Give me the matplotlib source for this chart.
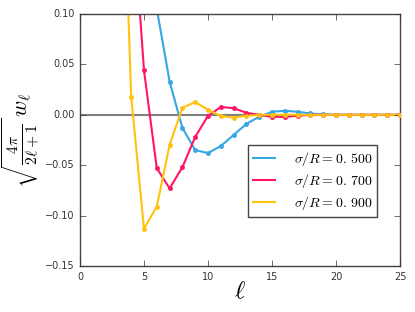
import matplotlib
matplotlib.use("Agg")
import matplotlib.pyplot as plt

plt.style.use("classic")
plt.rcParams["mathtext.fontset"] = "cm"

# multipole index
ell = list(range(2, 26))

# sqrt(4pi/(2l+1)) w_l
w_050 = [0.60, 0.40, 0.25, 0.17, 0.105, 0.033, -0.013, -0.035, -0.038, -0.031,
         -0.020, -0.009, -0.002, 0.003, 0.004, 0.003, 0.0013, 0.0005, 0.0,
         0.0, 0.0, 0.0, 0.0, 0.0]
w_070 = [0.60, 0.40, 0.225, 0.044, -0.053, -0.073, -0.052, -0.022, -0.001,
         0.0077, 0.0066, 0.002, 0.0, -0.002, -0.002, -0.001, 0.0, 0.0, 0.0,
         0.0, 0.0, 0.0, 0.0, 0.0]
w_090 = [0.70, 0.39, 0.018, -0.113, -0.091, -0.030, 0.007, 0.0126, 0.005,
         -0.0013, -0.0027, -0.001, 0.0, 0.0, 0.0, 0.0, 0.0, 0.0, 0.0, 0.0,
         0.0, 0.0, 0.0, 0.0]

series = [(w_050, "#35a7e3", r"$\sigma/R = 0.\,500$"),
          (w_070, "#ff1466", r"$\sigma/R = 0.\,700$"),
          (w_090, "#ffc20e", r"$\sigma/R = 0.\,900$")]

fig = plt.figure(figsize=(4.15, 3.12), dpi=100, facecolor="white")
ax = fig.add_axes([80 / 415, 1 - 266 / 312, 320 / 415, 252 / 312])

ax.axhline(0, color="#808080", lw=1.5, zorder=1)
for w, c, lab in series:
    ax.plot(ell, w, color=c, lw=1.5, label=lab, zorder=2)
    ax.plot(ell, w, color=c, lw=0, marker="o", ms=3, mec=c, zorder=3)

ax.set_xlim(0, 25)
ax.set_ylim(-0.15, 0.10)
ax.set_xticks([0, 5, 10, 15, 20, 25])
ax.set_yticks([-0.15, -0.10, -0.05, 0.0, 0.05, 0.10])
ax.tick_params(labelsize=7, colors="#333333")
for s in ax.spines.values():
    s.set_color("#444444")

ax.set_xlabel(r"$\ell$", fontsize=18, labelpad=-2)
ax.set_ylabel(r"$\sqrt{\frac{4\pi}{2\ell+1}}\,w_\ell$", fontsize=16, labelpad=2)

leg = ax.legend(loc="lower right", bbox_to_anchor=(0.928, 0.194), fontsize=10,
                handlelength=1.6, handletextpad=1.3, numpoints=1,
                borderaxespad=0, borderpad=0.35, labelspacing=0.3)
leg.get_frame().set_edgecolor("#444444")

fig.savefig("out.png", dpi=100, facecolor="white")
